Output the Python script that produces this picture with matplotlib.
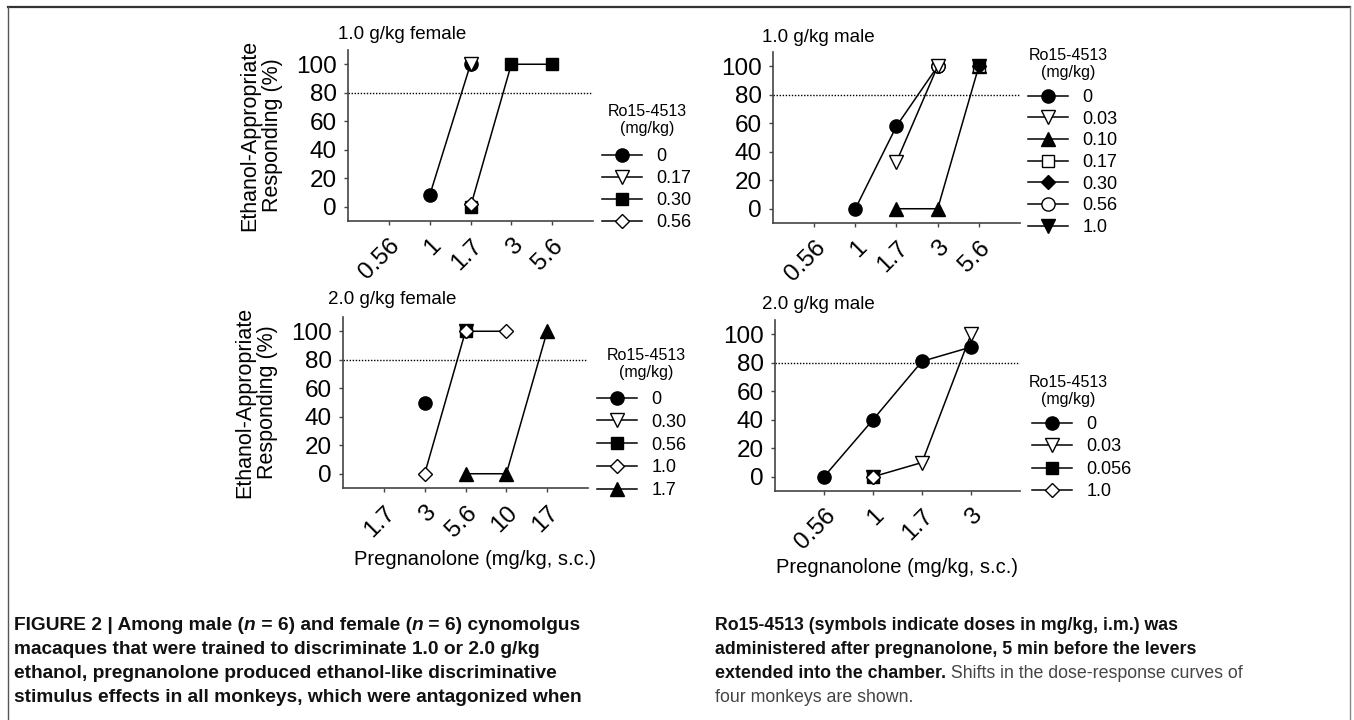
import numpy as np
import matplotlib
matplotlib.use('Agg')
import matplotlib.pyplot as plt
from matplotlib.lines import Line2D

nan = np.nan

# 1.0 g/kg female
f1_doses = ['0.56', '1', '1.7', '3', '5.6']
f1_ro = ['0', '0.17', '0.30', '0.56']
f1_resp = [[nan, 8, 100, nan, nan],
           [nan, nan, 100, nan, nan],
           [nan, nan, 0, 100, 100],
           [nan, nan, 2, nan, nan]]

# 1.0 g/kg male
m1_doses = ['0.56', '1', '1.7', '3', '5.6']
m1_ro = ['0', '0.03', '0.10', '0.17', '0.30', '0.56', '1.0']
m1_resp = [[nan, 0, 58, 100, nan],
           [nan, nan, 33, 100, nan],
           [nan, nan, 0, 0, 100],
           [nan, nan, nan, nan, 100],
           [nan, nan, nan, nan, 100],
           [nan, nan, nan, 100, nan],
           [nan, nan, nan, nan, 100]]

# 2.0 g/kg female
f2_doses = ['1.7', '3', '5.6', '10', '17']
f2_ro = ['0', '0.30', '0.56', '1.0', '1.7']
f2_resp = [[nan, 50, nan, nan, nan],
           [nan, nan, 100, nan, nan],
           [nan, nan, 100, nan, nan],
           [nan, 0, 100, 100, nan],
           [nan, nan, 0, 0, 100]]

# 2.0 g/kg male
m2_doses = ['0.56', '1', '1.7', '3']
m2_ro = ['0', '0.03', '0.056', '1.0']
m2_resp = [[0, 40, 81, 91],
           [nan, 0, 10, 100],
           [nan, 0, nan, nan],
           [nan, 0, nan, nan]]

# marker, filled, zorder for every series
f1_style = [('o', True, 2), ('v', False, 3), ('s', True, 4), ('D', False, 5)]
m1_style = [('o', True, 2), ('v', False, 4), ('^', True, 2), ('s', False, 2),
            ('D', True, 2), ('o', False, 3), ('v', True, 2)]
f2_style = [('o', True, 2), ('v', False, 2), ('s', True, 3), ('D', False, 4), ('^', True, 2)]
m2_style = [('o', True, 3), ('v', False, 2), ('s', True, 3), ('D', False, 4)]

W, H = 1354, 720
fig = plt.figure(figsize=(W / 100, H / 100), dpi=100)
plt.rcParams['font.family'] = ['Liberation Sans', 'DejaVu Sans']

msize = {'o': 9.5, 'v': 9.5, '^': 9.5, 's': 8, 'D': 7}


def px_axes(left, top, right, bottom):
    return fig.add_axes([left / W, 1 - bottom / H, (right - left) / W, (bottom - top) / H])


def draw_panel(box, doses, ro, resp, style, title, title_xy, legend_xy, title_center,
               spacing, ylabel=False, xlabel_xy=None):
    ax = px_axes(*box)
    x = np.arange(len(doses))
    ax.axhline(80, color='k', lw=1.0, ls=(0, (1, 1.2)), zorder=1)
    lines = []
    for vals, lab, (mk, filled, z) in zip(resp, ro, style):
        ln, = ax.plot(x, vals, color='k', lw=1.1, marker=mk, ms=msize[mk],
                      mfc='k' if filled else 'white', mec='k', mew=1.0,
                      label=lab, zorder=z, clip_on=False)
        lines.append(ln)

    ax.set_xlim(-1, len(doses))
    ax.set_ylim(-10, 110)
    ax.set_yticks([0, 20, 40, 60, 80, 100])
    ax.set_xticks(x)
    ax.set_xticklabels(doses)
    for s in ['top', 'right']:
        ax.spines[s].set_visible(False)
    for s in ['left', 'bottom']:
        ax.spines[s].set_color('#444444')
        ax.spines[s].set_linewidth(1.2)
    ax.tick_params(axis='both', length=3, width=1, color='#444444', labelsize=17.5)
    ax.tick_params(axis='y', pad=5)
    ax.tick_params(axis='x', pad=7)
    for lab in ax.get_xticklabels():
        lab.set_rotation(45)
        lab.set_ha('right')
        lab.set_va('top')
        lab.set_rotation_mode('anchor')

    ax.text(title_xy[0], title_xy[1], title, transform=ax.transAxes,
            ha='left', va='center', fontsize=13.5)

    if ylabel:
        ax.text(-0.355, 0.5, 'Ethanol-Appropriate\nResponding (%)', transform=ax.transAxes,
                rotation=90, ha='center', va='center', fontsize=15.5, linespacing=1.1)
    if xlabel_xy is not None:
        ax.text(xlabel_xy[0], xlabel_xy[1], 'Pregnanolone (mg/kg, s.c.)', transform=ax.transAxes,
                ha='center', va='center', fontsize=14.5)

    # legend with its title drawn as a separate text
    fig.text(title_center[0] / W, 1 - title_center[1] / H, 'Ro15-4513\n(mg/kg)',
             ha='center', va='center', fontsize=11.5, linespacing=1.1)
    ax.legend(lines, ro, loc='upper left',
              bbox_to_anchor=(legend_xy[0] / W, 1 - legend_xy[1] / H),
              bbox_transform=fig.transFigure, frameon=False, fontsize=13,
              borderpad=0, borderaxespad=0, handlelength=2.2, handletextpad=0.8,
              labelspacing=spacing)
    return ax


draw_panel((348, 50, 593, 221), f1_doses, f1_ro, f1_resp, f1_style,
           '1.0 g/kg female', (-0.04, 1.088), (602, 148), (647, 120), 0.28, ylabel=True)
draw_panel((773, 52, 1020, 223), m1_doses, m1_ro, m1_resp, m1_style,
           '1.0 g/kg male', (-0.045, 1.082), (1028, 89), (1068, 64), 0.26)
draw_panel((343, 317, 588, 488), f2_doses, f2_ro, f2_resp, f2_style,
           '2.0 g/kg female', (-0.06, 1.10), (597, 391), (646, 364), 0.32,
           ylabel=True, xlabel_xy=(0.54, -0.42))
draw_panel((775, 320, 1020, 491), m2_doses, m2_ro, m2_resp, m2_style,
           '2.0 g/kg male', (-0.053, 1.088), (1032, 416), (1068, 391), 0.30,
           xlabel_xy=(0.5, -0.45))

# frame around the figure
fig.add_artist(Line2D([8 / W, 1350 / W], [1 - 7 / H, 1 - 7 / H], transform=fig.transFigure,
                      color='#333333', lw=1.6))
fig.add_artist(Line2D([8 / W, 8 / W], [0, 1 - 7 / H], transform=fig.transFigure,
                      color='#555555', lw=1.0))
fig.add_artist(Line2D([1350 / W, 1350 / W], [0, 1 - 7 / H], transform=fig.transFigure,
                      color='#888888', lw=1.0))

# caption, piece by piece (bold / italic / regular)
left_caption = [
    [('FIGURE 2 | Among male (', 'bold', 'normal'), ('n', 'bold', 'italic'),
     (' = 6) and female (', 'bold', 'normal'), ('n', 'bold', 'italic'),
     (' = 6) cynomolgus', 'bold', 'normal')],
    [('macaques that were trained to discriminate 1.0 or 2.0 g/kg', 'bold', 'normal')],
    [('ethanol, pregnanolone produced ethanol-like discriminative', 'bold', 'normal')],
    [('stimulus effects in all monkeys, which were antagonized when', 'bold', 'normal')],
]
right_caption = [
    [('Ro15-4513 (symbols indicate doses in mg/kg, i.m.) was', 'bold', 'normal')],
    [('administered after pregnanolone, 5 min before the levers', 'bold', 'normal')],
    [('extended into the chamber.', 'bold', 'normal'),
     (' Shifts in the dose-response curves of', 'normal', 'normal')],
    [('four monkeys are shown.', 'normal', 'normal')],
]


def write_caption(lines, x0, y0, step, size):
    for i, pieces in enumerate(lines):
        prev = None
        for txt, wt, st in pieces:
            col = '#111111' if wt == 'bold' else '#444444'
            if prev is None:
                prev = fig.text(x0 / W, 1 - (y0 + i * step) / H, txt, ha='left', va='center',
                                fontsize=size, fontweight=wt, fontstyle=st, color=col)
            else:
                prev = plt.annotate(txt, xy=(1, 0.5), xycoords=prev, ha='left', va='center',
                                    fontsize=size, fontweight=wt, fontstyle=st, color=col,
                                    annotation_clip=False)


write_caption(left_caption, 14, 625, 24, 13.8)
write_caption(right_caption, 715, 625, 24, 12.8)

fig.savefig('out.png', dpi=100)
